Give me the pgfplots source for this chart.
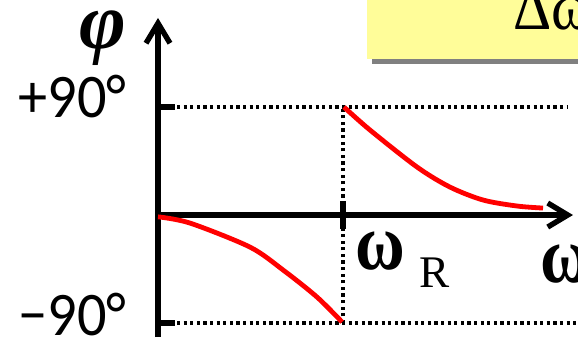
\documentclass[border=0pt]{standalone}
\usepackage{pgfplots}
\pgfplotsset{compat=1.18}
\usetikzlibrary{arrows.meta}
\usepackage{fontspec}
\setmainfont{Liberation Serif}
\newfontfamily\sans{Carlito}
\definecolor{boxyellow}{RGB}{255,253,153}
\definecolor{shadowgray}{RGB}{128,128,128}

\begin{document}
\begin{tikzpicture}
\begin{axis}[
  x=92.5pt, y=0.6pt,
  xmin=0, xmax=2.243, ymin=-101.7, ymax=164.2,
  axis lines=middle,
  axis line style={line width=2.7pt, -{Straight Barb[length=10pt,width=12pt,line width=2.7pt]}},
  xtick=\empty, ytick=\empty,
  clip=false,
]
% page corners
\coordinate (bl) at (axis cs:-0.854,-101.67);
\coordinate (tr) at (axis cs:2.270,179.17);

% yellow box with shadow
\fill[shadowgray] (axis cs:1.157,125.8) rectangle (axis cs:2.4,130.0);
\fill[boxyellow] (axis cs:1.130,130.0) rectangle (axis cs:2.4,185);
\node[anchor=base west, inner sep=0, font=\fontsize{33}{33}\selectfont]
  at (axis cs:1.919,154.2) {\scalebox{0.9}[1]{Δω}};

% dotted guides
\draw[line width=1.7pt, dash pattern=on 1.6pt off 1.7pt] (axis cs:0.103,90) -- (axis cs:2.216,90);
\draw[line width=1.7pt, dash pattern=on 1.6pt off 1.7pt] (axis cs:0.103,-90) -- (axis cs:2.4,-90);
\draw[line width=1.7pt, dash pattern=on 1.6pt off 1.7pt] (axis cs:1,-90) -- (axis cs:1,90);

% ticks
\draw[line width=2.7pt] (axis cs:0,90) -- (axis cs:0.092,90);
\draw[line width=2.7pt] (axis cs:0,-90) -- (axis cs:0.092,-90);
\draw[line width=3pt] (axis cs:1,-11.5) -- (axis cs:1,11.5);

% phase response
\addplot[red, line width=2.4pt, smooth, no markers] coordinates {
  (0.000,-1.5) (0.173,-6.7) (0.497,-26.7) (0.676,-45.8) (0.859,-68.3) (0.995,-89.2)
};
\addplot[red, line width=2.4pt, smooth, no markers] coordinates {
  (1.005,90) (1.146,70.8) (1.400,40.0) (1.578,23.3) (1.757,12.5) (1.941,7.5) (2.081,5.8)
};

% labels
\node[anchor=base east, inner sep=0, font=\sans\fontsize{31}{31}\selectfont]
  at (axis cs:-0.168,81.6) {\scalebox{0.94}[1]{+90°}};
\node[anchor=base east, inner sep=0, font=\sans\fontsize{31}{31}\selectfont]
  at (axis cs:-0.168,-100) {\scalebox{0.94}[1]{−90°}};
\node[font=\bfseries\itshape\fontsize{40}{40}\selectfont, inner sep=0]
  at (axis cs:-0.297,147) {φ};
\node[anchor=base west, inner sep=0, font=\fontsize{40}{40}\selectfont]
  at (axis cs:1.065,-45) {\scalebox{0.85}[1]{\bfseries ω}\hspace{7pt}\raisebox{-9pt}{\fontsize{22.6}{22.6}\selectfont R}};
\node[anchor=base west, inner sep=0, font=\fontsize{40}{40}\selectfont]
  at (axis cs:2.065,-56) {\scalebox{0.85}[1]{\bfseries ω}};
\end{axis}
\pgfresetboundingbox
\useasboundingbox (bl) rectangle (tr);
\end{tikzpicture}
\end{document}
